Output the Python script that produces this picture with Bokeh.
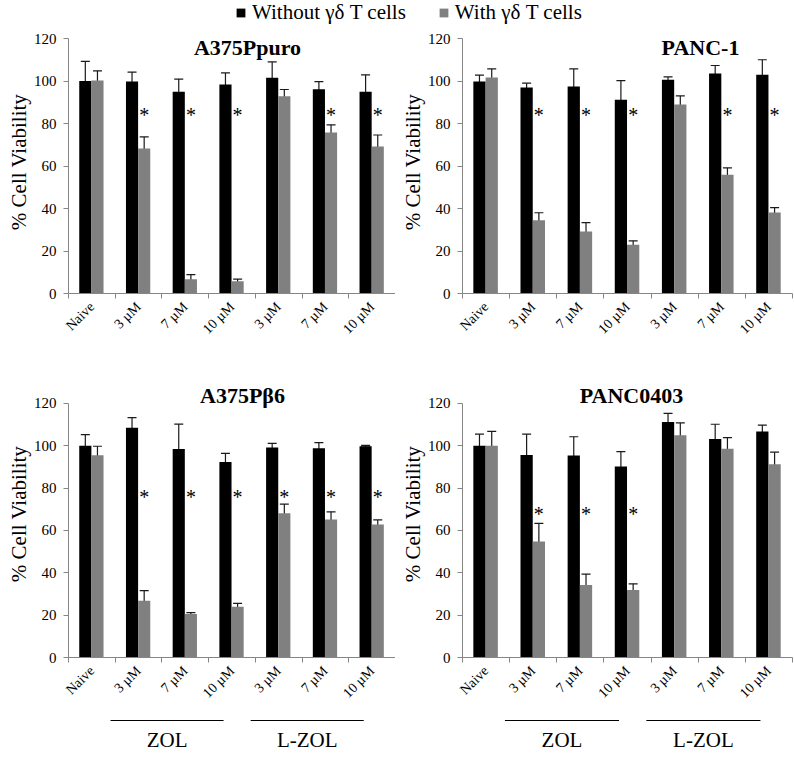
import numpy as np
from bokeh.plotting import figure
from bokeh.models import (ColumnDataSource, FixedTicker, Label, Legend, LegendItem,
                          Whisker, TeeHead, Range1d)
from bokeh.layouts import column, row
from bokeh.embed import file_html
from bokeh.resources import INLINE
from bokeh.core.properties import value

# ---------------- data ----------------
categories = ["Naive", "3 µM", "7 µM", "10 µM", "3 µM", "7 µM", "10 µM"]
group_names = ["ZOL", "L-ZOL"]
group_members = [[2, 3, 4], [5, 6, 7]]          # 1-based category positions
series_names = ["Without γδ T cells", "With γδ T cells"]
titles = ["A375Ppuro", "PANC-1", "A375Pβ6", "PANC0403"]

a375ppuro_without = [100.0, 99.8, 94.9, 98.3, 101.5, 96.1, 94.9]
a375ppuro_without_err = [9.2, 4.4, 6.0, 5.5, 7.5, 3.6, 8.0]
a375ppuro_with = [100.2, 68.2, 6.7, 5.8, 92.8, 75.8, 69.2]
a375ppuro_with_err = [4.6, 5.5, 2.2, 1.0, 3.2, 3.6, 5.4]
a375ppuro_stars = [2, 3, 4, 6, 7]

panc1_without = [99.8, 96.9, 97.4, 91.2, 100.6, 103.5, 103.0]
panc1_without_err = [3.0, 2.1, 8.3, 9.0, 1.3, 3.8, 7.0]
panc1_with = [101.7, 34.5, 29.2, 23.0, 89.0, 55.9, 38.1]
panc1_with_err = [4.0, 3.5, 4.2, 1.8, 4.0, 3.2, 2.3]
panc1_stars = [2, 3, 4, 6, 7]

a375pb6_without = [100.0, 108.5, 98.5, 92.4, 99.2, 98.9, 99.8]
a375pb6_without_err = [5.3, 4.8, 11.8, 4.0, 2.0, 2.6, 0.4]
a375pb6_with = [95.5, 26.8, 20.6, 24.0, 68.2, 65.2, 62.8]
a375pb6_with_err = [4.3, 4.8, 0.6, 1.6, 4.3, 3.6, 2.2]
a375pb6_stars = [2, 3, 4, 5, 6, 7]

panc0403_without = [100.0, 95.7, 95.4, 90.2, 111.3, 103.2, 106.8]
panc0403_without_err = [5.5, 9.8, 8.9, 7.1, 4.0, 7.0, 3.0]
panc0403_with = [100.0, 54.8, 34.2, 31.9, 105.0, 98.6, 91.3]
panc0403_with_err = [6.8, 8.6, 5.2, 2.9, 5.8, 5.3, 5.7]
panc0403_stars = [2, 3, 4]

star_levels = [84, 84, 76, 67.6]
y_ticks = [0, 20, 40, 60, 80, 100, 120]

# ---------------- style ----------------
FONT = "Liberation Serif"
BLACK = "#000000"
GRAY = "#808080"
AXIS = "#868686"
ERR = "#1a1a1a"
BW = 0.26
OFF_B = -0.14
OFF_G = 0.12


def make_panel(title, wo, wo_err, wi, wi_err, stars, star_y, width, height,
               bl, br, bb, ytop, title_x, title_y):
    n = len(categories)
    xs = np.arange(1, n + 1)
    p = figure(width=width, height=height, x_range=Range1d(0.5, n + 0.5),
               y_range=Range1d(0, ytop), output_backend="svg", toolbar_location=None,
               min_border_left=bl, min_border_right=br, min_border_top=0,
               min_border_bottom=bb)
    p.outline_line_color = None
    p.grid.visible = False
    p.background_fill_color = "white"

    wo = np.array(wo, float); wi = np.array(wi, float)
    woe = np.array(wo_err, float); wie = np.array(wi_err, float)
    src = ColumnDataSource(dict(
        xb=xs + OFF_B, xg=xs + OFF_G, wo=wo, wi=wi,
        wo_up=wo + woe, wo_lo=wo - woe, wi_up=wi + wie, wi_lo=wi - wie))
    p.vbar(x="xb", top="wo", bottom=0, width=BW, fill_color=BLACK, line_color=None, source=src)
    p.vbar(x="xg", top="wi", bottom=0, width=BW, fill_color=GRAY, line_color=None, source=src)
    for base, up, lo in (("xb", "wo_up", "wo_lo"), ("xg", "wi_up", "wi_lo")):
        p.add_layout(Whisker(source=src, base=base, upper=up, lower=lo,
                             line_color=ERR, line_width=1.2,
                             upper_head=TeeHead(size=9, line_color=ERR, line_width=1.2),
                             lower_head=TeeHead(size=9, line_color=ERR, line_width=1.2)))

    star_src = ColumnDataSource(dict(x=[s + OFF_G for s in stars],
                                     y=[star_y] * len(stars),
                                     t=["*"] * len(stars)))
    p.text(x="x", y="y", text="t", source=star_src, text_font=value(FONT),
           text_font_size="20px", text_align="center", text_baseline="middle",
           text_color=BLACK)

    p.add_layout(Label(x=title_x, y=title_y, x_units="screen", y_units="screen",
                       text=title, text_font=FONT, text_font_size="22px",
                       text_font_style="bold", text_align="center",
                       text_baseline="middle", text_color=BLACK))

    ya = p.yaxis[0]
    ya.ticker = FixedTicker(ticks=y_ticks)
    ya.bounds = (0, 120)
    ya.axis_label = "% Cell Viability"
    ya.axis_label_text_font = FONT
    ya.axis_label_text_font_size = "21px"
    ya.axis_label_text_font_style = "normal"
    ya.axis_label_text_color = BLACK
    ya.axis_label_standoff = 0
    ya.major_label_text_font = FONT
    ya.major_label_text_font_size = "15px"
    ya.major_label_text_color = BLACK
    ya.major_label_standoff = 7
    ya.major_tick_out = 5
    ya.major_tick_in = 0
    ya.minor_tick_out = 0
    ya.minor_tick_in = 0
    ya.axis_line_color = AXIS
    ya.major_tick_line_color = AXIS

    xa = p.xaxis[0]
    xa.ticker = FixedTicker(ticks=[int(v) for v in xs],
                            minor_ticks=[float(v) for v in np.arange(0.5, n + 1, 1.0)])
    xa.major_label_overrides = {int(v): c for v, c in zip(xs, categories)}
    xa.major_label_orientation = np.pi / 4
    xa.major_label_text_font = FONT
    xa.major_label_text_font_size = "14px"
    xa.major_label_text_color = BLACK
    xa.major_label_standoff = 6
    xa.major_tick_out = 0
    xa.major_tick_in = 0
    xa.minor_tick_out = 5
    xa.minor_tick_in = 0
    xa.minor_tick_line_color = AXIS
    xa.axis_line_color = AXIS
    return p


GROUP_H = 40


def make_groups(p, width, bl, br):
    g = figure(width=width, height=GROUP_H, x_range=p.x_range,
               y_range=Range1d(0, GROUP_H),
               output_backend="svg", toolbar_location=None,
               x_axis_location=None, y_axis_location=None,
               min_border_left=bl, min_border_right=br, min_border_top=0,
               min_border_bottom=0)
    g.outline_line_color = None
    g.grid.visible = False
    x0 = [m[0] - 0.60 for m in group_members]
    x1 = [m[-1] - 0.18 for m in group_members]
    src = ColumnDataSource(dict(x0=x0, x1=x1, y=[GROUP_H - 8] * len(x0),
                                xc=[(a + b) / 2 for a, b in zip(x0, x1)],
                                yt=[12.5] * len(x0), name=group_names))
    g.segment(x0="x0", y0="y", x1="x1", y1="y", line_color=BLACK, line_width=1, source=src)
    g.text(x="xc", y="yt", text="name", source=src, text_font=value(FONT),
           text_font_size="21px", text_align="center", text_baseline="middle",
           text_color=BLACK)
    return g


# layout geometry (Bokeh's page template has no body margin)
LW, RW = 395, 398
LBL, LBR = 68, 0
RBL, RBR = 67, 1
TOP_H, BOT_H = 340, 342
TOP_YMAX = 120 + 8 / 2.125
BOT_YMAX = 120 + 33 / 2.1167

p1 = make_panel(titles[0], a375ppuro_without, a375ppuro_without_err, a375ppuro_with,
                a375ppuro_with_err, a375ppuro_stars, star_levels[0],
                LW, TOP_H, LBL, LBR, 77, TOP_YMAX, 179, 246)
p2 = make_panel(titles[1], panc1_without, panc1_without_err, panc1_with,
                panc1_with_err, panc1_stars, star_levels[1],
                RW, TOP_H, RBL, RBR, 77, TOP_YMAX, 238, 246)
p3 = make_panel(titles[2], a375pb6_without, a375pb6_without_err, a375pb6_with,
                a375pb6_with_err, a375pb6_stars, star_levels[2],
                LW, BOT_H, LBL, LBR, 55, BOT_YMAX, 174, 262)
p4 = make_panel(titles[3], panc0403_without, panc0403_without_err, panc0403_with,
                panc0403_with_err, panc0403_stars, star_levels[3],
                RW, BOT_H, RBL, RBR, 55, BOT_YMAX, 169, 262)
g3 = make_groups(p3, LW, LBL, LBR)
g4 = make_groups(p4, RW, RBL, RBR)

# legend strip
leg = figure(width=LW + RW, height=30, output_backend="svg", toolbar_location=None,
             x_range=Range1d(0, 1), y_range=Range1d(0, 1),
             x_axis_location=None, y_axis_location=None, min_border=0)
leg.outline_line_color = None
leg.grid.visible = False
# off-range points: only their legend swatches are visible
r1 = leg.vbar(x=[5], top=[5], bottom=[4], width=0.1, fill_color=BLACK, line_color=None)
r2 = leg.vbar(x=[5], top=[5], bottom=[4], width=0.1, fill_color=GRAY, line_color=None)
legend = Legend(items=[LegendItem(label=series_names[0], renderers=[r1]),
                       LegendItem(label=series_names[1], renderers=[r2])],
                orientation="horizontal", location=(235, 5),
                glyph_width=11, glyph_height=11, label_standoff=6, spacing=32,
                padding=0, margin=0, border_line_color=None,
                background_fill_alpha=0, label_text_font=FONT,
                label_text_font_size="21px", label_text_color=BLACK)
leg.add_layout(legend, "center")

layout = column(leg, row(p1, p2), row(p3, p4), row(g3, g4))
open("out.html", "w").write(file_html(layout, INLINE))
